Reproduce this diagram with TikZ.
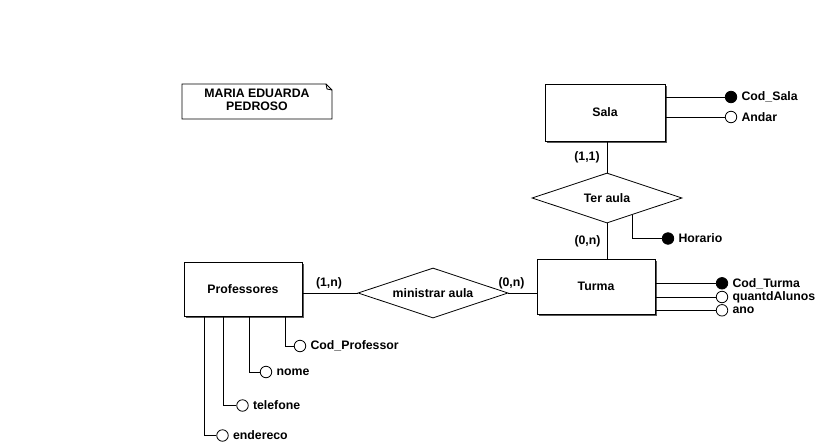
\documentclass[tikz,border=0pt]{standalone}
\usepackage{fontspec}
\setmainfont{Liberation Sans}
\usetikzlibrary{positioning,shapes.geometric,calc,shadows}

\newcommand{\erfont}{\fontsize{12.3}{13}\selectfont\bfseries}
\tikzset{
  entidade/.style={draw, fill=white, inner sep=0pt, font=\erfont,
    drop shadow={shadow xshift=2pt, shadow yshift=-2pt, opacity=1, fill=black!65}},
  relacao/.style={draw, diamond, aspect=3, fill=white, inner sep=0pt,
    minimum width=150pt, minimum height=50pt, font=\erfont},
  atrib/.style={draw, circle, fill=white, minimum size=11.5pt, inner sep=0pt},
  chave/.style={atrib, fill=black},
  rotulo/.style={font=\erfont, inner sep=1pt},
}

\begin{document}
\begin{tikzpicture}[x=1pt, y=-1pt, line width=0.8pt]
\useasboundingbox (0,0) rectangle (820,445);
% --- Nota ---
\draw (182,84) -- (326,84) -- (332,90) -- (332,119) -- (182,119) -- cycle;
\draw (326,84) -- (327,89) -- (332,90);
\node[rotulo, align=center] (autora) at (257,100) {MARIA EDUARDA\\PEDROSO};
% --- Entidades ---
\node[entidade, minimum width=120pt, minimum height=57pt] (sala) at (605,112.5) {Sala};
\node[entidade, minimum width=118pt, minimum height=55pt] (turma) at (596,286.5) {Turma};
\node[entidade, minimum width=118pt, minimum height=54pt] (prof) at (243,289) {Professores};
% --- Relacionamentos ---
\node[relacao] (ter) at (607,198) {Ter aula};
\node[relacao] (minis) at (433,293) {ministrar aula};
\draw (ter.north |- sala.south) -- (ter.north);
\draw (ter.south) -- (ter.south |- turma.north);
\draw (prof.east |- minis.west) -- (minis.west);
\draw (minis.east) -- (turma.west |- minis.east);
\node[rotulo] (card11) at (587,157) {(1,1)};
\node[rotulo] (card0n) at (587.5,241) {(0,n)};
\node[rotulo] (card1n) at (329,283) {(1,n)};
\node[rotulo] (card0m) at (511.5,283) {(0,n)};
% --- Atributos: Sala ---
\foreach \txt/\y/\tipo [count=\i] in {Cod\_Sala/97/chave, Andar/117/atrib} {
  \node[\tipo] (sa\i) at (731,\y) {};
  \node[rotulo, right=3pt of sa\i] (sat\i) {\txt};
  \draw (sala.east |- sa\i) -- (sa\i);
}
% --- Atributo: Ter aula ---
\coordinate (h0) at ($(ter.south)!0.34!(ter.east)$);
\node[chave] (hor) at (668,238.5) {};
\node[rotulo, right=3pt of hor] (hort) {Horario};
\draw (h0) |- (hor);
% --- Atributos: Turma ---
\foreach \txt/\y/\tipo [count=\i] in {Cod\_Turma/283.3/chave, quantdAlunos/297/atrib, ano/310.3/atrib} {
  \node[\tipo] (tu\i) at (722,\y) {};
  \node[rotulo, right=3pt of tu\i] (tut\i) {\txt};
  \draw (turma.east |- tu\i) -- (tu\i);
}
% --- Atributos: Professores ---
\foreach \txt/\x/\cx/\cy [count=\i] in {Cod\_Professor/285/300/346, nome/249/266/372,
    telefone/223/242.5/405.5, endereco/204/222.5/435.5} {
  \node[atrib] (pa\i) at (\cx,\cy) {};
  \node[rotulo, right=3pt of pa\i] (pat\i) {\txt};
  \coordinate (px\i) at (\x,0);
  \draw (prof.south -| px\i) |- (pa\i);
}
\end{tikzpicture}
\end{document}
